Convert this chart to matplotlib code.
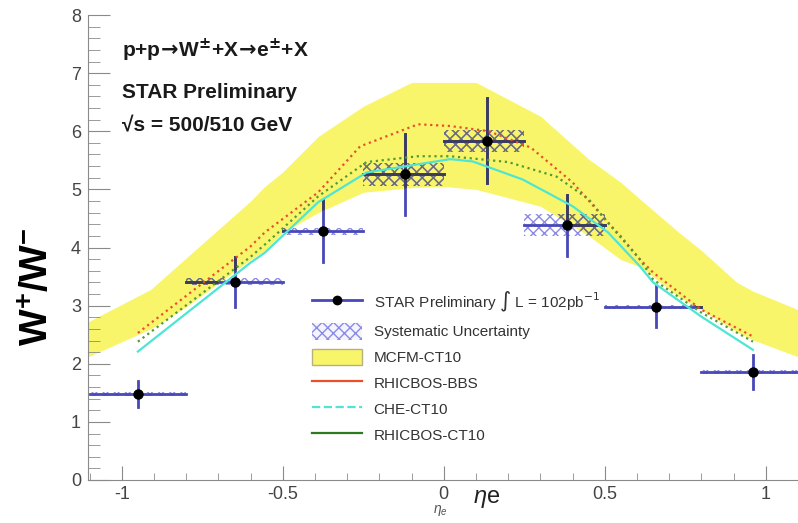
import numpy as np
import matplotlib
matplotlib.use("Agg")
import matplotlib.pyplot as plt
from matplotlib.patches import Polygon, Rectangle, Patch
from matplotlib.lines import Line2D

plt.rcParams['font.family'] = ['Liberation Sans', 'DejaVu Sans']
plt.rcParams['mathtext.fontset'] = 'custom'
plt.rcParams['mathtext.rm'] = 'Liberation Sans'
plt.rcParams['mathtext.it'] = 'Liberation Sans:italic'
plt.rcParams['mathtext.bf'] = 'Liberation Sans:bold'
plt.rcParams['hatch.linewidth'] = 1.0

# STAR data points: W+/W- ratio vs eta_e
bin_edges = [-1.1, -0.8, -0.5, -0.25, 0.0, 0.25, 0.5, 0.8, 1.1]
eta = [-0.95, -0.65, -0.375, -0.122, 0.133, 0.382, 0.658, 0.96]
ratio = [1.48, 3.41, 4.28, 5.26, 5.84, 4.38, 2.98, 1.86]
stat_err = [0.22, 0.43, 0.53, 0.70, 0.73, 0.53, 0.35, 0.29]
sys_err = [0.04, 0.06, 0.06, 0.20, 0.19, 0.19, 0.03, 0.03]

# MCFM-CT10 band (lower / upper edge)
band_x = [-1.105, -0.91, -0.8, -0.6, -0.556, -0.5, -0.39, -0.25, -0.1, 0.0, 0.1, 0.3, 0.45, 0.55, 0.61, 0.73, 0.8, 0.91, 0.96, 1.1]
band_lo = [2.12, 2.6, 2.98, 3.79, 3.95, 4.26, 4.6, 4.95, 5.03, 5.05, 5.0, 4.71, 4.2, 3.79, 3.67, 3.15, 2.93, 2.55, 2.41, 2.12]
band_hi = [2.72, 3.28, 3.82, 4.8, 5.05, 5.3, 5.91, 6.43, 6.84, 6.84, 6.84, 6.26, 5.52, 5.12, 4.83, 4.26, 3.95, 3.4, 3.25, 2.93]

# theory curves
bbs_x = [-0.95, -0.6, -0.556, -0.39, -0.26, -0.08, 0.02, 0.14, 0.27, 0.40, 0.51, 0.55, 0.61, 0.65, 0.80, 0.96]
bbs_y = [2.53, 4.02, 4.26, 4.95, 5.74, 6.12, 6.09, 6.0, 5.72, 5.12, 4.43, 4.19, 3.79, 3.57, 2.93, 2.47]
che_x = [-0.95, -0.6, -0.556, -0.39, -0.24, 0.02, 0.09, 0.245, 0.40, 0.51, 0.61, 0.65, 0.80, 0.96]
che_y = [2.21, 3.74, 3.91, 4.78, 5.29, 5.52, 5.48, 5.17, 4.71, 4.26, 3.67, 3.40, 2.81, 2.24]
ct10_x = [-0.95, -0.6, -0.556, -0.39, -0.24, -0.08, 0.02, 0.2, 0.35, 0.45, 0.52, 0.61, 0.65, 0.80, 0.96]
ct10_y = [2.38, 3.84, 4.05, 4.88, 5.47, 5.57, 5.57, 5.47, 5.22, 4.83, 4.36, 3.79, 3.45, 2.88, 2.38]

blue = '#4848b8'
blue_in = '#3c3c5a'
hatch_out = '#8a8ae6'
hatch_in = '#6e6e70'
yellow = '#f9f56b'

fig = plt.figure(figsize=(7.98, 5.23), dpi=100)
ax = fig.add_axes([88 / 798, 1 - 480 / 523, 1 - 88 / 798, (480 - 15) / 523])

ax.fill_between(band_x, band_lo, band_hi, color=yellow, lw=0, zorder=1)
verts = list(zip(band_x, band_hi)) + list(zip(band_x[::-1], band_lo[::-1]))
clip = Polygon(verts, closed=True, transform=ax.transData)

# systematic boxes + error bars, drawn twice: blue outside band, gray inside
for col_h, col_l, clipped in [(hatch_out, blue, False), (hatch_in, blue_in, True)]:
    arts = []
    for i in range(len(eta)):
        r = Rectangle((bin_edges[i], ratio[i] - sys_err[i]), bin_edges[i + 1] - bin_edges[i],
                      2 * sys_err[i], facecolor='none', edgecolor=col_h, hatch='xxx', lw=0, zorder=2)
        ax.add_patch(r)
        arts.append(r)
        l1, = ax.plot([bin_edges[i], bin_edges[i + 1]], [ratio[i], ratio[i]], color=col_l, lw=2, zorder=3)
        l2, = ax.plot([eta[i], eta[i]], [ratio[i] - stat_err[i], ratio[i] + stat_err[i]], color=col_l, lw=2, zorder=3)
        arts += [l1, l2]
    if clipped:
        for a in arts:
            a.set_clip_path(clip)

ax.plot(bbs_x, bbs_y, color='#e8502a', ls=':', lw=1.6, zorder=4)
ax.plot(che_x, che_y, color='#4ee6d2', ls='-', lw=1.6, zorder=4)
ax.plot(ct10_x, ct10_y, color='#4f9a34', ls=':', lw=1.6, zorder=4)
ax.plot(eta, ratio, 'o', color='k', ms=6.5, zorder=5)

ax.set_xlim(-1.105, 1.1)
ax.set_ylim(0, 8)
ax.set_xticks([-1, -0.5, 0, 0.5, 1])
ax.set_xticklabels(['-1', '-0.5', '0', '0.5', '1'])
ax.set_xticks(np.arange(-1.1, 1.11, 0.1), minor=True)
ax.set_yticks(range(0, 9))
ax.set_yticks(np.arange(0, 8.01, 0.2), minor=True)
for s in ['top', 'right']:
    ax.spines[s].set_visible(False)
for s in ['left', 'bottom']:
    ax.spines[s].set_color('#8a8a8a')
ax.tick_params(axis='both', which='both', direction='in', color='#8a8a8a', labelcolor='#444444', labelsize=13)
ax.tick_params(axis='y', which='major', length=16, pad=5)
ax.tick_params(axis='y', which='minor', length=8.5)
ax.tick_params(axis='x', which='major', length=10, pad=4)
ax.tick_params(axis='x', which='minor', length=5)

# labels
fig.text(38 / 798, 1 - 287 / 523, r'W$^{\mathbf{+}}$/W$^{\mathbf{-}}$', rotation=90, fontsize=28,
         fontweight='bold', ha='center', va='center')
fig.text(487 / 798, 1 - 499 / 523, r'$\eta$e', fontsize=17, ha='center', va='center', color='#222222')
fig.text(440 / 798, 1 - 511 / 523, r'$\eta_{e}$', fontsize=10, ha='center', va='center', color='#555555')

fig.text(122 / 798, 1 - 50 / 523,
         r'p+p$\!\mathbf{\rightarrow}\!$W$^{\mathbf{\pm}}$+X$\!\mathbf{\rightarrow}\!$e$^{\mathbf{\pm}}$+X',
         fontsize=15, fontweight='bold', va='center', color='#1a1a1a', math_fontfamily='dejavusans')
fig.text(122 / 798, 1 - 92 / 523, 'STAR Preliminary', fontsize=15, fontweight='bold', va='center', color='#1a1a1a')
fig.text(122 / 798, 1 - 126 / 523, '√s = 500/510 GeV', fontsize=15, fontweight='bold', va='center', color='#1a1a1a')

handles = [
    Line2D([], [], color=blue, lw=2, marker='o', mfc='k', mec='k', ms=6),
    Patch(facecolor='#f4f4ff', edgecolor=hatch_out, hatch='xxx', lw=0),
    Patch(facecolor=yellow, edgecolor='#b8b27a', lw=1),
    Line2D([], [], color='#e8502a', lw=1.6),
    Line2D([], [], color='#4ee6d2', lw=1.6, ls='--'),
    Line2D([], [], color='#2e7a22', lw=1.6),
]
labels = [r'STAR Preliminary $\int$ L = 102pb$^{-1}$', 'Systematic Uncertainty', 'MCFM-CT10',
          'RHICBOS-BBS', 'CHE-CT10', 'RHICBOS-CT10']
leg = ax.legend(handles, labels, loc='upper left', bbox_to_anchor=(304 / 798, 1 - 282 / 523),
                bbox_transform=fig.transFigure, frameon=False, fontsize=11, handlelength=3.3,
                handleheight=1.3, labelspacing=0.6, handletextpad=0.75, borderpad=0)
for t in leg.get_texts():
    t.set_color('#333333')
leg.get_texts()[0].set_math_fontfamily('dejavusans')

fig.savefig('out.png', dpi=100)
